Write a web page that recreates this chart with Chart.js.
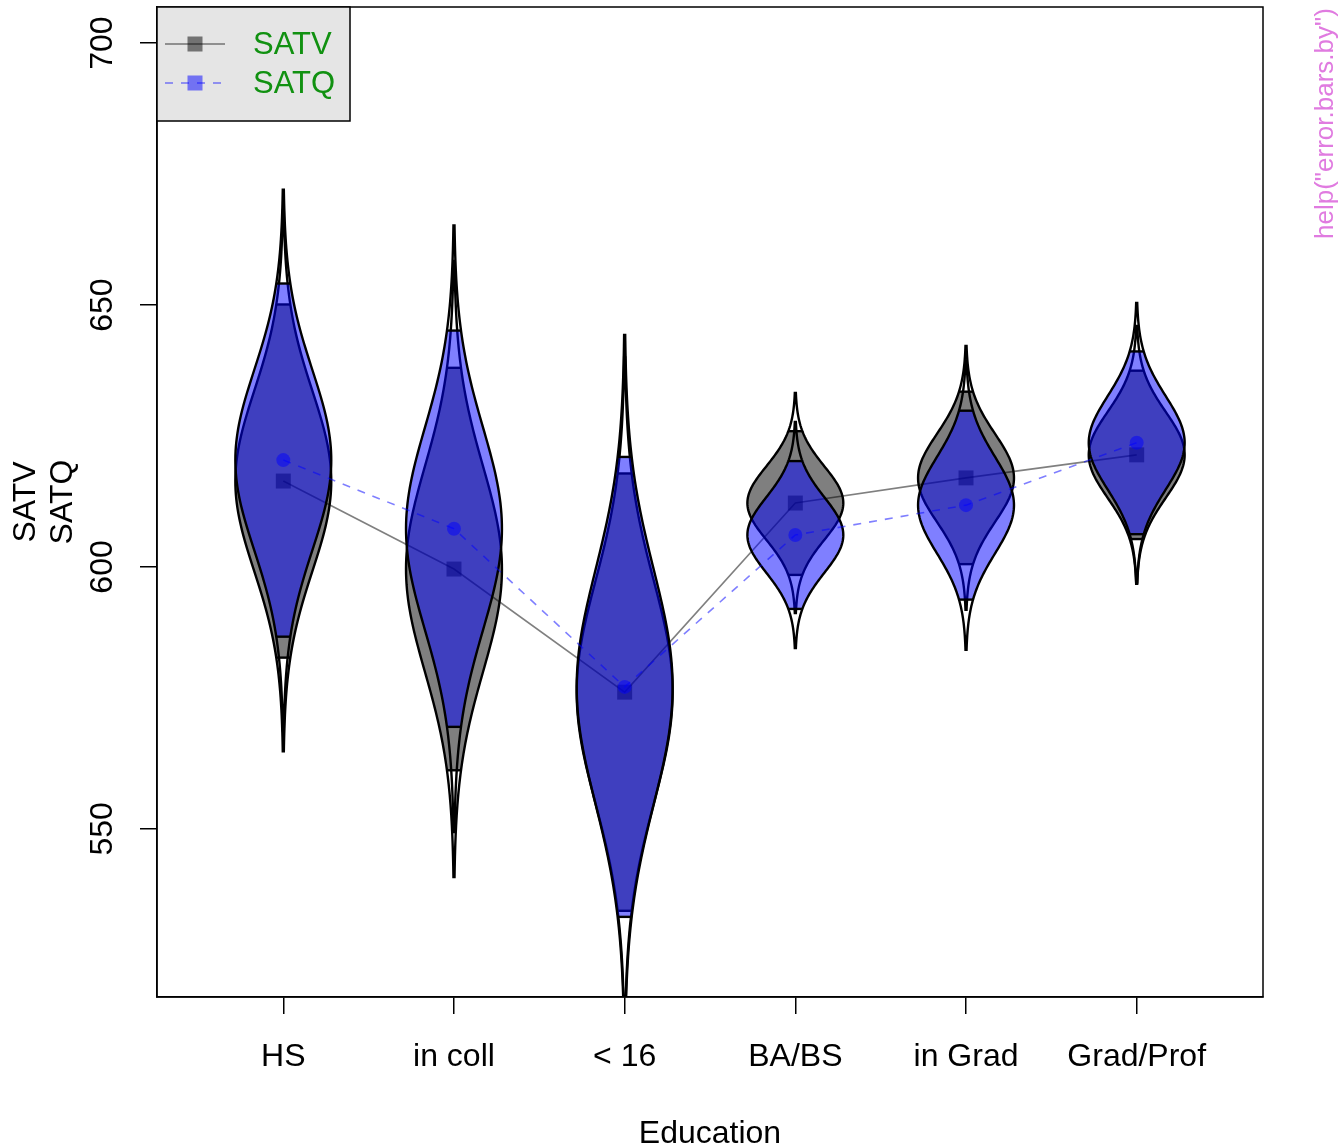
<!DOCTYPE html>
<html>
<head>
<meta charset="utf-8">
<script src="https://cdn.jsdelivr.net/npm/chart.js@4/dist/chart.umd.min.js"></script>
<style>
  html, body { margin: 0; padding: 0; background: #fff; }
  canvas { display: block; }
</style>
</head>
<body>
<canvas id="myChart" width="1341" height="1148"></canvas>
<script>
const categories = ["HS", "in coll", "< 16", "BA/BS", "in Grad", "Grad/Prof"];
const satvMean = [616.4, 599.6, 576.1, 612.2, 617.0, 621.4];
const satqMean = [620.4, 607.3, 577.1, 606.1, 611.8, 623.7];
const satvSe = [17.2, 19.6, 21.3, 7.0, 8.4, 8.2];
const satqSe = [17.2, 19.3, 22.4, 7.2, 9.2, 8.9];
const yTicks = [550, 600, 650, 700];

const FONT = "'Liberation Sans', Arial, Helvetica, sans-serif";
const EYE_W = 0.281; // half width of an eye, in category units
const Z = 1.96;

function eyeEdge(x, y, c, m, s, t, side) {
  return [x.getPixelForValue(c + side * EYE_W * Math.exp(-t * t / 2)), y.getPixelForValue(m + t * s)];
}

function drawEyes(chart, means, ses, fill) {
  const { ctx, chartArea: a, scales: { x, y } } = chart;
  ctx.save();
  ctx.beginPath();
  ctx.rect(a.left, a.top, a.right - a.left, a.bottom - a.top);
  ctx.clip();
  means.forEach((m, i) => {
    const s = ses[i], c = i + 1;
    // shaded confidence region
    ctx.beginPath();
    for (let k = 0; k <= 80; k++) {
      const t = -Z + 2 * Z * k / 80;
      const p = eyeEdge(x, y, c, m, s, t, 1);
      k === 0 ? ctx.moveTo(p[0], p[1]) : ctx.lineTo(p[0], p[1]);
    }
    for (let k = 80; k >= 0; k--) {
      const t = -Z + 2 * Z * k / 80;
      const p = eyeEdge(x, y, c, m, s, t, -1);
      ctx.lineTo(p[0], p[1]);
    }
    ctx.closePath();
    ctx.fillStyle = fill;
    ctx.fill();
    // outline of the whole eye
    ctx.beginPath();
    for (let k = 0; k <= 120; k++) {
      const t = -3 + k / 20;
      const p = eyeEdge(x, y, c, m, s, t, 1);
      k === 0 ? ctx.moveTo(p[0], p[1]) : ctx.lineTo(p[0], p[1]);
    }
    for (let k = 120; k >= 0; k--) {
      const t = -3 + k / 20;
      const p = eyeEdge(x, y, c, m, s, t, -1);
      ctx.lineTo(p[0], p[1]);
    }
    ctx.closePath();
    ctx.strokeStyle = "#000";
    ctx.lineWidth = 2.4;
    ctx.stroke();
    // ends of the confidence region
    [-Z, Z].forEach((t) => {
      const l = eyeEdge(x, y, c, m, s, t, -1), r = eyeEdge(x, y, c, m, s, t, 1);
      ctx.beginPath();
      ctx.moveTo(l[0], l[1]);
      ctx.lineTo(r[0], r[1]);
      ctx.stroke();
    });
  });
  ctx.restore();
}

const catsEyes = {
  id: "catsEyes",
  beforeDatasetDraw(chart, args) {
    if (args.index === 0) drawEyes(chart, satvMean, satvSe, "rgba(0,0,0,0.5)");
    if (args.index === 1) drawEyes(chart, satqMean, satqSe, "rgba(0,0,255,0.5)");
  },
  afterDraw(chart) {
    const { ctx, chartArea: a, scales: { x, y } } = chart;
    ctx.save();
    // box
    ctx.strokeStyle = "#000";
    ctx.lineWidth = 1.5;
    ctx.strokeRect(a.left, a.top, a.right - a.left, a.bottom - a.top);

    ctx.fillStyle = "#000";
    ctx.font = "32px " + FONT;
    // x tick labels
    ctx.textAlign = "center";
    ctx.textBaseline = "alphabetic";
    categories.forEach((c, i) => ctx.fillText(c, x.getPixelForValue(i + 1), 1066));
    ctx.fillText("Education", (a.left + a.right) / 2, 1143);
    // y tick labels, rotated like R
    yTicks.forEach((v) => {
      ctx.save();
      ctx.translate(112, y.getPixelForValue(v));
      ctx.rotate(-Math.PI / 2);
      ctx.fillText(String(v), 0, 0);
      ctx.restore();
    });
    // y title
    const mid = (a.top + a.bottom) / 2;
    [["SATV", 35], ["SATQ", 72]].forEach(([t, bx]) => {
      ctx.save();
      ctx.translate(bx, mid);
      ctx.rotate(-Math.PI / 2);
      ctx.fillText(t, 0, 0);
      ctx.restore();
    });
    // side note
    ctx.save();
    ctx.translate(1333, 239);
    ctx.rotate(-Math.PI / 2);
    ctx.textAlign = "left";
    ctx.fillStyle = "#E07BE0";
    ctx.font = "26px " + FONT;
    ctx.fillText('help("error.bars.by")', 0, 0);
    ctx.restore();

    // legend
    ctx.fillStyle = "#E5E5E5";
    ctx.fillRect(a.left, a.top, 193, 114);
    ctx.strokeStyle = "#000";
    ctx.lineWidth = 1.5;
    ctx.strokeRect(a.left, a.top, 193, 114);
    const rows = [
      { label: "SATV", yy: 44, col: "rgba(0,0,0,0.5)", dash: [] },
      { label: "SATQ", yy: 83, col: "rgba(0,0,255,0.5)", dash: [8, 8] }
    ];
    rows.forEach((r) => {
      ctx.strokeStyle = r.col;
      ctx.lineWidth = 1.6;
      ctx.setLineDash(r.dash);
      ctx.beginPath();
      ctx.moveTo(165, r.yy);
      ctx.lineTo(225, r.yy);
      ctx.stroke();
      ctx.setLineDash([]);
      ctx.fillStyle = r.col;
      ctx.fillRect(187.5, r.yy - 7.5, 15, 15);
      ctx.fillStyle = "#119111";
      ctx.font = "31px " + FONT;
      ctx.textAlign = "left";
      ctx.textBaseline = "middle";
      ctx.fillText(r.label, 253, r.yy + 1);
    });
    ctx.restore();
  }
};

const toPoints = (arr) => arr.map((v, i) => ({ x: i + 1, y: v }));

new Chart(document.getElementById("myChart"), {
  type: "scatter",
  data: {
    datasets: [
      {
        label: "SATV",
        data: toPoints(satvMean),
        showLine: true,
        order: 1,
        borderColor: "rgba(0,0,0,0.5)",
        borderWidth: 1.6,
        pointStyle: "rect",
        pointRadius: 10.6,
        pointBorderWidth: 0,
        pointBackgroundColor: "rgba(0,0,0,0.5)"
      },
      {
        label: "SATQ",
        data: toPoints(satqMean),
        showLine: true,
        order: 0,
        borderColor: "rgba(0,0,255,0.5)",
        borderWidth: 1.6,
        borderDash: [8, 8],
        pointStyle: "circle",
        pointRadius: 7,
        pointBorderWidth: 0,
        pointBackgroundColor: "rgba(0,0,255,0.5)"
      }
    ]
  },
  options: {
    responsive: false,
    animation: false,
    devicePixelRatio: 1,
    layout: { autoPadding: false, padding: { top: 7, right: 78, left: 0, bottom: 0 } },
    scales: {
      x: {
        type: "linear",
        min: 0.26,
        max: 6.74,
        afterBuildTicks: (s) => { s.ticks = categories.map((c, i) => ({ value: i + 1 })); },
        afterFit: (s) => { s.height = 151; },
        ticks: { display: false },
        grid: { drawOnChartArea: false, drawTicks: true, tickLength: 17, color: "#000", lineWidth: 1.5 },
        border: { display: true, color: "#000", width: 1.5 }
      },
      y: {
        type: "linear",
        min: 517.9,
        max: 706.9,
        afterBuildTicks: (s) => { s.ticks = yTicks.map((v) => ({ value: v })); },
        afterFit: (s) => { s.width = 157; },
        ticks: { display: false },
        grid: { drawOnChartArea: false, drawTicks: true, tickLength: 17, color: "#000", lineWidth: 1.5 },
        border: { display: true, color: "#000", width: 1.5 }
      }
    },
    plugins: {
      legend: { display: false },
      tooltip: { enabled: false }
    }
  },
  plugins: [catsEyes]
});
</script>
</body>
</html>
